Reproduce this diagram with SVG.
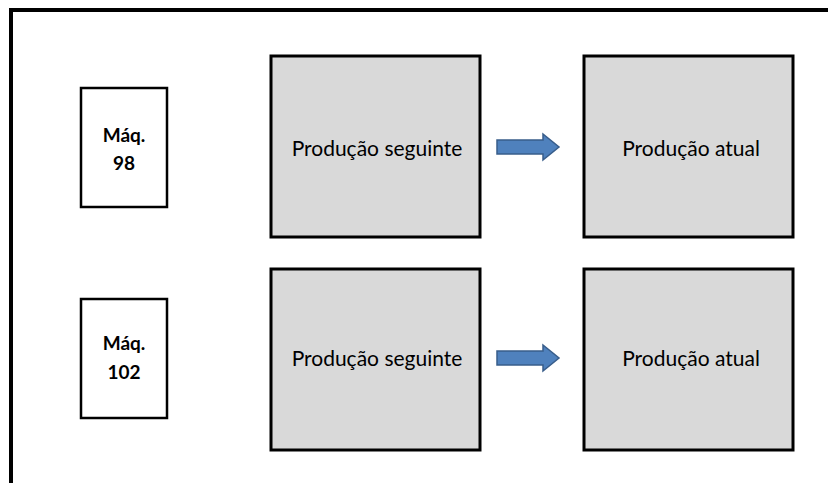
<svg xmlns="http://www.w3.org/2000/svg" width="828" height="483" viewBox="0 0 828 483">
  <style>
    .machine { fill: #ffffff; stroke: #000000; stroke-width: 2.5; }
    .stage { fill: #d9d9d9; stroke: #000000; stroke-width: 3; }
    .arrow { fill: #4f81bd; stroke: #385d8a; stroke-width: 1.5; }
    .label { font-family: Lato, "Liberation Sans", sans-serif; font-size: 21px; fill: #000000; text-anchor: middle; }
    .mlabel { font-family: Lato, "Liberation Sans", sans-serif; font-size: 19px; font-weight: bold; fill: #000000; text-anchor: middle; }
  </style>
  <defs>
    <path id="arrowShape" d="M0,-7 H46 V-13 L62,0 L46,13 V7 H0 Z"/>
  </defs>
  <rect width="828" height="483" fill="#ffffff"/>
  <!-- outer frame -->
  <g id="frame" fill="none" stroke="#000000" stroke-width="4">
    <path d="M11,483 V10 H828"/>
  </g>

  <g id="maq98">
    <rect class="machine" x="81" y="88" width="86" height="119"/>
    <text class="mlabel" x="124" y="142">Máq.</text>
    <text class="mlabel" x="124" y="170">98</text>
  </g>
  <g id="maq102">
    <rect class="machine" x="81" y="299" width="86" height="119"/>
    <text class="mlabel" x="124" y="350">Máq.</text>
    <text class="mlabel" x="124" y="379">102</text>
  </g>

  <g id="seguinte98">
    <rect class="stage" x="271" y="56" width="209" height="181"/>
    <text class="label" x="377" y="156">Produção seguinte</text>
  </g>
  <g id="atual98">
    <rect class="stage" x="584" y="56" width="209" height="181"/>
    <text class="label" x="691" y="156">Produção atual</text>
  </g>
  <g id="seguinte102">
    <rect class="stage" x="271" y="269" width="209" height="181"/>
    <text class="label" x="377" y="366">Produção seguinte</text>
  </g>
  <g id="atual102">
    <rect class="stage" x="584" y="269" width="209" height="181"/>
    <text class="label" x="691" y="366">Produção atual</text>
  </g>

  <g id="connectors">
    <use href="#arrowShape" class="arrow" transform="translate(497,147)"/>
    <use href="#arrowShape" class="arrow" transform="translate(497,358)"/>
  </g>
</svg>
